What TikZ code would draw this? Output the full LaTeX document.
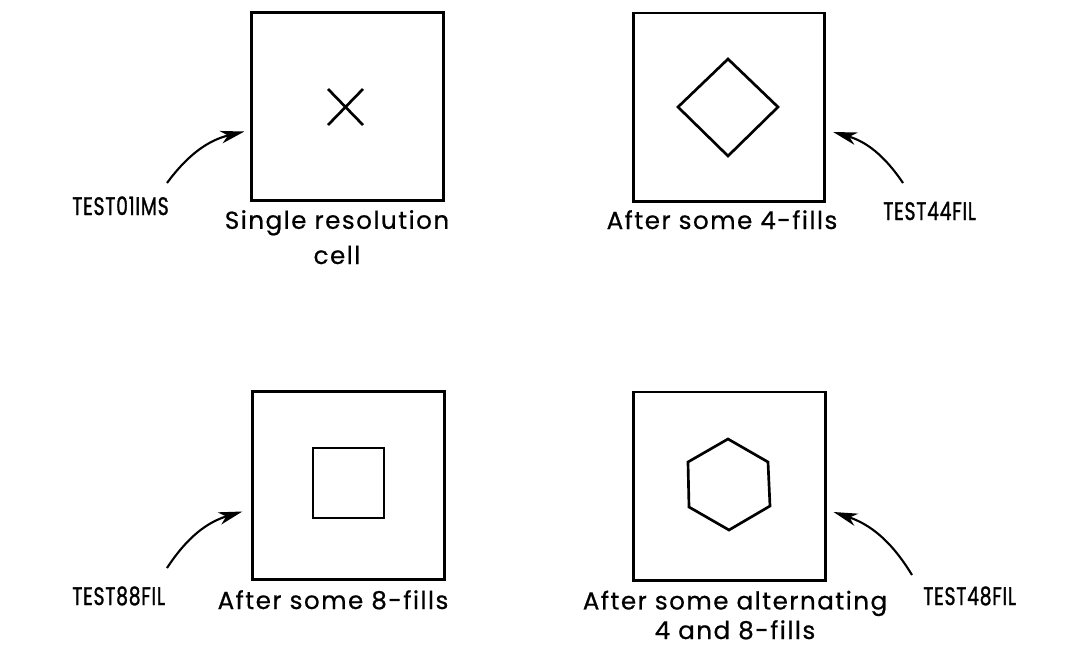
\documentclass[tikz,border=0pt]{standalone}
\usepackage{fontspec}
\setmainfont{Poppins}[LetterSpace=6, FakeBold=0.6]
\newfontfamily\labfont{Poppins}[FakeStretch=0.74, FakeBold=1.2, LetterSpace=3]
\usetikzlibrary{arrows.meta, positioning, calc}

\begin{document}
\begin{tikzpicture}[x=0.025cm, y=-0.025cm,
    cell/.style={draw, line width=2.1pt, minimum width=4.78cm, minimum height=4.7cm, inner sep=0pt},
    figline/.style={line width=1.9pt, line join=miter},
    pointer/.style={line width=1.5pt, -{Stealth[length=17pt, width=9pt, inset=5pt]}},
    txt/.style={font=\fontsize{17.5}{21}\selectfont, inner sep=0pt},
    lab/.style={font=\labfont\fontsize{18}{21}\selectfont, inner sep=0pt, anchor=base west}]
  \useasboundingbox (0,0) rectangle (1067,660);

  % Cells
  \node[cell] (c1) at (347.5,106.5) {};
  \node[cell] (c2) at (729,107) {};
  \node[cell] (c3) at (348.5,485.5) {};
  \node[cell] (c4) at (729.5,486) {};

  % Patterns in the cells
  \draw[figline] (328,89) -- (363,125) (328,125) -- (363,89);
  \draw[figline] (728,59) -- (778,107) -- (728,156) -- (678,107) -- cycle;
  \draw[figline] (313,448) rectangle (384,518);
  \draw[figline] (728,439) -- (768,462) -- (770,506) -- (729,530) -- (689,507) -- (688,462) -- cycle;

  % Captions
  \node[txt, anchor=base, align=center] (t1) at (337,264) {Single resolution\\[4pt]cell};
  \node[txt, anchor=base] (t2) at (722,229) {After some 4-fills};
  \node[txt, anchor=base] (t3) at (333,609) {After some 8-fills};
  \node[txt, anchor=base, align=center] (t4) at (735,639) {After some alternating\\4 and 8-fills};

  % Program names
  \node[lab] (lab1) at (72,215) {TEST01IMS};
  \node[lab] (lab2) at (883,220) {TEST44FIL};
  \node[lab] (lab3) at (72,605) {TEST88FIL};
  \node[lab] (lab4) at (923,605) {TEST48FIL};

  % Arrows
  \draw[pointer] ($(lab1.base west)+(95,-32)$) to[bend left=20] ($(c1.west)+(-6,25)$);
  \draw[pointer] ($(lab2.base west)+(20,-37)$) to[bend right=20] ($(c2.east)+(7,25)$);
  \draw[pointer] ($(lab3.base west)+(95,-37)$) to[bend left=20] ($(c3.west)+(-9,26)$);
  \draw[pointer] ($(lab4.base west)+(-11,-30)$) to[bend right=20] ($(c4.east)+(7,26)$);
\end{tikzpicture}
\end{document}
